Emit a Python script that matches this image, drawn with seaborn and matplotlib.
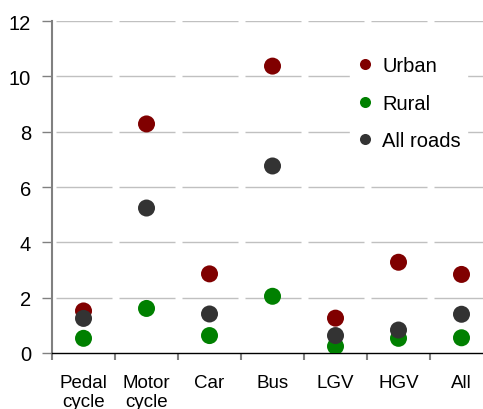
import matplotlib.pyplot as plt
import pandas as pd
import seaborn as sns
from matplotlib.ticker import FixedLocator

sns.set_style("white")
plt.rcParams['font.family'] = ['Liberation Sans', 'DejaVu Sans']
plt.rcParams['text.color'] = 'black'
plt.rcParams['xtick.color'] = 'black'
plt.rcParams['ytick.color'] = 'black'

vehicles = ['Pedal\ncycle', 'Motor\ncycle', 'Car', 'Bus', 'LGV', 'HGV', 'All']
urban = [1.52, 8.28, 2.86, 10.37, 1.26, 3.28, 2.84]
rural = [0.53, 1.61, 0.63, 2.05, 0.24, 0.53, 0.55]
all_roads = [1.25, 5.24, 1.41, 6.76, 0.63, 0.83, 1.40]
roads = ['Urban', 'Rural', 'All roads']
colors = ['#800000', '#008000', '#333333']

df = pd.concat([
    pd.DataFrame({'vehicle': vehicles, 'rate': vals, 'road': name})
    for name, vals in zip(roads, [urban, rural, all_roads])
], ignore_index=True)

fig = plt.figure(figsize=(4.83, 4.10), dpi=100)
ax = fig.add_axes([0.1077, 0.1366, 0.913, 0.8097])

# broken gridlines, one segment per category
for y in range(2, 13, 2):
    for i in range(len(vehicles)):
        ax.hlines(y, i - 0.44, i + 0.45, color='#c0c0c0', lw=1, zorder=0)

sns.scatterplot(data=df, x='vehicle', y='rate', hue='road', hue_order=roads,
                palette=colors, s=150, edgecolor='none', ax=ax, zorder=3)

ax.set_xlim(-0.5, len(vehicles) - 0.5)
ax.set_ylim(0, 12)
ax.set_yticks(range(0, 13, 2))
ax.set_xlabel(None)
ax.set_ylabel(None)
ax.tick_params(axis='y', length=7, width=1, color='#808080', labelsize=14.5,
               labelcolor='black', pad=8, left=True)
ax.tick_params(axis='x', which='major', length=0, labelsize=13.5,
               labelcolor='black', pad=15)
ax.xaxis.set_minor_locator(FixedLocator([i - 0.5 for i in range(len(vehicles) + 1)]))
ax.tick_params(axis='x', which='minor', length=5, width=1.5, color='#808080', bottom=True)

for side in ['top', 'right']:
    ax.spines[side].set_visible(False)
ax.spines['left'].set_color('#808080')
ax.spines['left'].set_linewidth(1.5)
ax.spines['bottom'].set_color('black')
ax.spines['bottom'].set_linewidth(1)

leg = ax.legend(loc='upper left', bbox_to_anchor=(350 / 483, 1 - 51 / 410),
                bbox_transform=fig.transFigure, fontsize=14.5, frameon=True,
                facecolor='white', edgecolor='white', framealpha=1,
                labelspacing=0.92, handlelength=0.9, handletextpad=0.4,
                borderpad=0.3, borderaxespad=0, markerscale=0.65)
for t in leg.get_texts():
    t.set_color('black')

fig.savefig('out.png', dpi=100)
